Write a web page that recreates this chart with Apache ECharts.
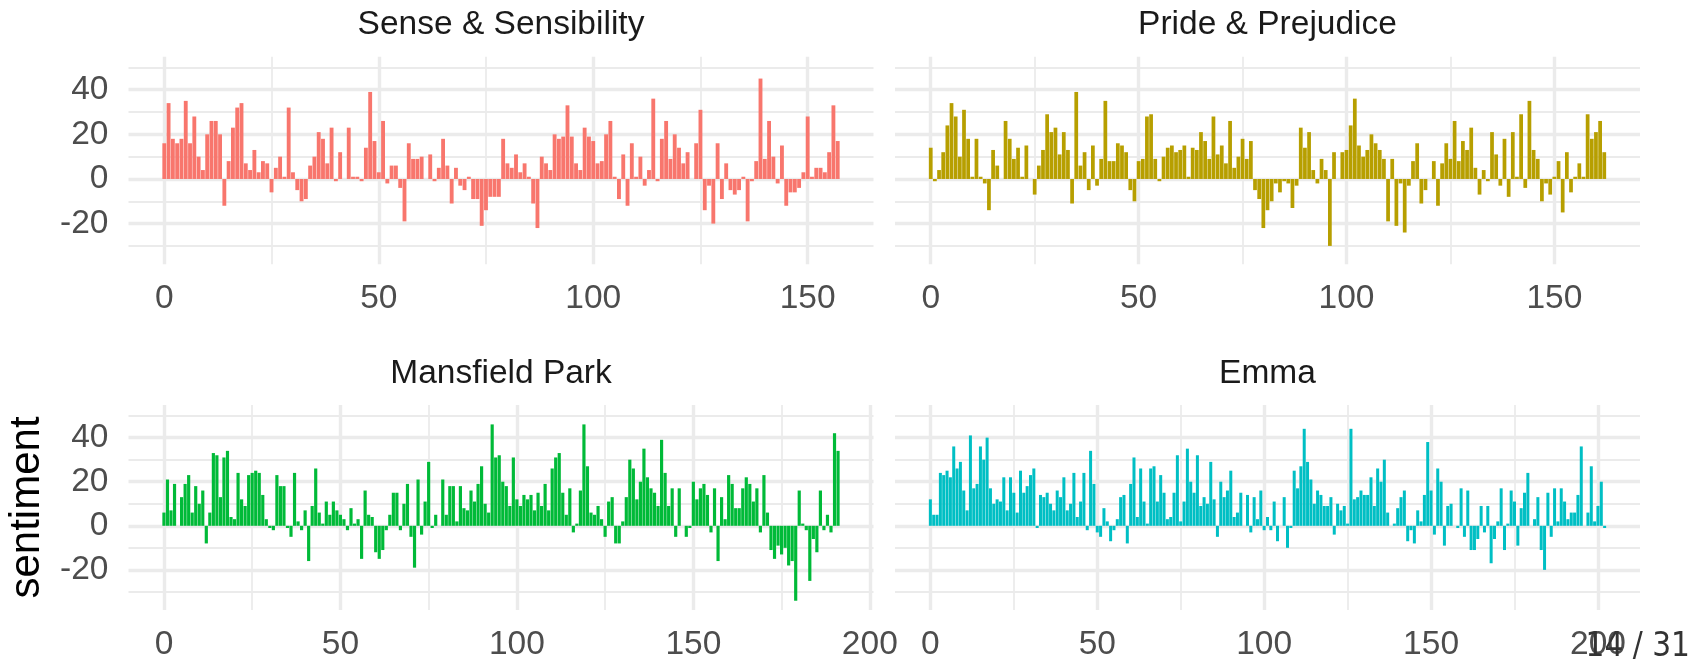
<!DOCTYPE html>
<html><head><meta charset="utf-8">
<script src="https://cdn.jsdelivr.net/npm/echarts@6/dist/echarts.min.js"></script>
<style>html,body{margin:0;padding:0;background:#fff;}#c{width:1703px;height:662px;}</style>
</head><body><div id="c"></div>
<script>
const books = ["Sense & Sensibility", "Pride & Prejudice", "Mansfield Park", "Emma"];
const bookColors = ["#F8766D", "#B79F00", "#00BA38", "#00BFC4"];

const sense = [16,34,18,16,18,35,16,28,10,4,
  20,26,26,20,-12,8,23,32,34,7,
  4,13,3,8,7,-6,5,10,1,32,
  3,-5,-10,-9,6,10,21,18,7,23,
  -1,12,0,23,1,1,-1,14,39,17,
  3,26,-2,6,6,-4,-19,16,9,9,
  10,0,11,-1,5,18,6,-11,5,-3,
  -5,1,-9,-9,-21,-14,-8,-8,-8,18,
  7,5,11,3,7,1,-11,-22,10,7,
  4,20,18,19,33,19,7,4,23,19,
  17,7,8,20,26,1,-9,11,-12,16,
  1,10,-3,4,36,-1,18,26,9,20,
  14,7,12,0,16,31,-14,-3,-20,16,
  -9,7,-5,-7,-5,1,-19,-1,8,45,
  9,26,10,-2,15,-12,-6,-6,-4,3,
  28,1,5,5,3,12,33,17];

const pride = [14,-1,4,12,24,34,28,10,31,18,
  1,18,1,-2,-14,13,6,0,26,18,
  9,14,1,15,0,-7,6,13,29,21,
  23,11,21,13,-11,39,6,12,-5,15,
  -3,9,35,8,8,16,15,12,-5,-10,
  8,9,28,29,9,-1,10,14,15,12,
  13,15,1,14,13,21,17,9,28,11,
  15,7,26,5,10,18,9,17,-5,-9,
  -22,-14,-10,-2,-6,-1,-2,-13,-3,23,
  14,21,4,-2,9,4,-30,12,0,12,
  13,24,36,15,10,13,20,16,13,9,
  -19,9,-21,-2,-24,-3,8,16,-11,-5,
  0,8,-12,7,16,9,26,8,17,13,
  23,5,-7,4,-1,21,11,-3,18,-8,
  21,1,29,-4,35,13,9,-10,-2,-7,
  1,8,-15,12,-6,1,7,1,29,18,
  21,26,12];

const mansfield = [6,21,7,19,0,13,19,23,6,18,
  10,16,-8,6,33,32,13,31,34,4,
  3,24,12,9,23,24,25,24,14,3,
  -1,-2,23,18,18,-1,-5,24,2,-2,
  7,-16,9,26,6,1,11,5,11,7,
  5,3,-2,8,1,3,-15,16,5,4,
  -12,-15,-11,-2,5,15,15,-2,10,19,
  -5,-19,21,-4,11,29,-1,5,0,21,
  5,18,18,2,18,8,7,16,11,19,
  27,10,6,46,31,32,20,18,9,31,
  12,9,14,12,14,7,15,9,19,7,
  26,31,33,15,5,17,-3,1,16,46,
  27,6,5,9,3,-5,11,13,-8,-8,
  2,13,30,26,12,20,35,22,17,15,
  9,39,24,9,17,-5,17,0,-5,-1,
  20,12,17,19,14,-3,17,-16,13,3,
  23,19,8,8,17,22,19,11,17,-3,
  23,6,-11,-15,-9,-13,-10,-18,-16,-34,
  16,1,-2,-25,-6,-12,16,-2,5,-3,
  42,34];

const emma = [12,5,5,24,23,25,22,36,26,29,
  16,7,41,17,19,36,30,40,17,10,
  12,11,22,7,22,15,6,25,15,18,
  23,26,-1,14,13,15,10,7,16,13,
  22,7,10,24,4,11,24,-2,34,19,
  -3,-5,8,2,-7,-2,3,13,14,-8,
  19,31,4,26,11,1,26,27,11,23,
  15,3,4,15,32,2,11,35,20,15,
  32,9,13,10,29,12,-5,20,13,16,
  25,4,6,15,0,14,-3,13,3,16,
  -2,4,-2,11,-7,0,13,-10,-1,25,
  17,27,44,29,21,10,16,14,9,9,
  13,-4,10,7,9,1,44,12,13,16,
  14,14,22,9,26,20,30,6,0,1,
  8,13,16,-7,-2,-8,7,2,14,38,
  16,-4,26,20,-9,9,10,0,-1,17,
  -5,16,-11,-11,-6,9,-3,9,-17,-6,
  2,17,-11,1,16,11,-9,8,15,24,
  0,3,13,-11,-20,15,-5,17,2,17,
  11,3,6,6,14,36,0,6,27,2,
  9,20,-1];

const xMajorTicks = [0, 50, 100, 150, 200];
const xMinorTicks = [25, 75, 125, 175];
const yMajorTicks = [-20, 0, 20, 40];
const yMinorTicks = [-30, -10, 10, 30, 50];
const yLimits = [-38.2, 54.8];
const slideNumber = "14 / 31";
const yTitle = "sentiment";

const allValues = [sense, pride, mansfield, emma];
const FONT = "'Liberation Sans', Arial, Helvetica, sans-serif";
const gridColor = "#EBEBEB";
const panelW = 745, panelH = 207.5;
const panelPos = [[128.5, 56.7], [895, 56.7], [128.5, 405], [895, 405]];

const grid = [], xAxis = [], yAxis = [], series = [], title = [];

allValues.forEach((vals, i) => {
  const n = vals.length;
  const span = (n - 1) + 0.9;
  const ex = 0.05 * span;
  const xmin = -0.45 - ex, xmax = (n - 1) + 0.45 + ex;
  const [gl, gt] = panelPos[i];
  grid.push({ left: gl, top: gt, width: panelW, height: panelH, containLabel: false });

  xAxis.push({
    type: 'value', gridIndex: i, min: xmin, max: xmax, position: 'bottom',
    axisLine: { show: false },
    axisTick: { show: false, customValues: xMajorTicks },
    axisLabel: { customValues: xMajorTicks, color: '#4D4D4D', fontSize: 33.5, fontFamily: FONT, margin: 18, lineHeight: 34 },
    splitLine: { show: true, lineStyle: { color: gridColor, width: 3.4 } }
  });
  xAxis.push({
    type: 'value', gridIndex: i, min: xmin, max: xmax, position: 'top',
    axisLine: { show: false },
    axisTick: { show: false, customValues: xMinorTicks },
    axisLabel: { show: false },
    splitLine: { show: true, lineStyle: { color: gridColor, width: 1.8 } }
  });

  const showY = (i % 2 === 0);
  const yMajor = {
    type: 'value', gridIndex: i, min: yLimits[0], max: yLimits[1], position: 'left',
    axisLine: { show: false },
    axisTick: { show: false, customValues: yMajorTicks },
    axisLabel: { show: showY, customValues: yMajorTicks, color: '#4D4D4D', fontSize: 33.5, fontFamily: FONT, margin: 20 },
    splitLine: { show: true, lineStyle: { color: gridColor, width: 3.4 } }
  };
  if (i === 2) {
    yMajor.name = yTitle;
    yMajor.nameLocation = 'middle';
    yMajor.nameGap = 80;
    yMajor.nameTextStyle = { fontSize: 42, color: '#000000', fontFamily: FONT };
  }
  yAxis.push(yMajor);
  yAxis.push({
    type: 'value', gridIndex: i, min: yLimits[0], max: yLimits[1], position: 'right',
    axisLine: { show: false },
    axisTick: { show: false, customValues: yMinorTicks },
    axisLabel: { show: false },
    splitLine: { show: true, lineStyle: { color: gridColor, width: 1.8 } }
  });

  series.push({
    name: books[i], type: 'bar', xAxisIndex: 2 * i, yAxisIndex: 2 * i,
    barWidth: '90%',
    itemStyle: { color: bookColors[i] },
    data: vals.map((v, k) => [k, v]),
    animation: false
  });

  title.push({
    text: books[i], left: gl + panelW / 2, top: gt - 48.5, textAlign: 'center', padding: 0,
    textStyle: { fontSize: 33.5, fontWeight: 'normal', color: '#1A1A1A', fontFamily: FONT, lineHeight: 34 }
  });
});

const chart = echarts.init(document.getElementById('c'), null, { renderer: 'canvas' });
chart.setOption({
  backgroundColor: '#FFFFFF',
  animation: false,
  title: title,
  grid: grid,
  xAxis: xAxis,
  yAxis: yAxis,
  series: series,
  graphic: [{
    type: 'text', x: 1690, y: 647, z: 100,
    style: { text: slideNumber, align: 'right', verticalAlign: 'middle', fontSize: 33, fill: '#333333',
             fontFamily: "'Liberation Sans Narrow', 'DejaVu Sans Condensed', 'Noto Sans', sans-serif" }
  }]
});
</script></body></html>
